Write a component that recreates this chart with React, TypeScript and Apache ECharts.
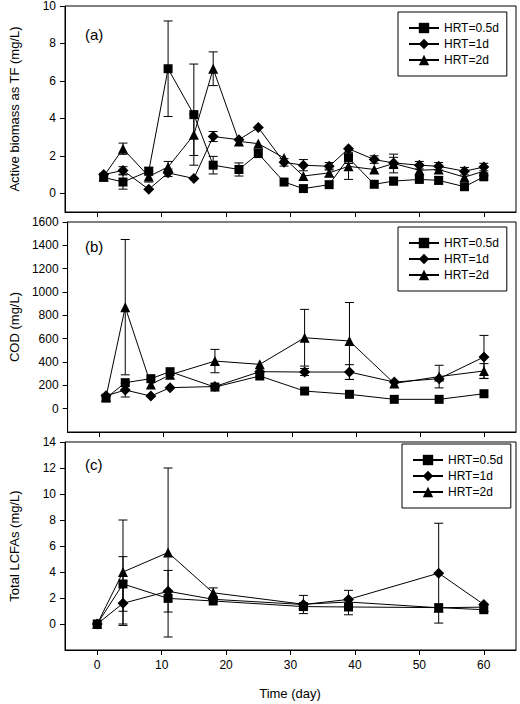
import React, { useEffect, useRef } from 'react';
import * as echarts from 'echarts';

const seriesNames = ['HRT=0.5d', 'HRT=1d', 'HRT=2d'];
const xTicks = [0, 10, 20, 30, 40, 50, 60];
const xTitle = 'Time (day)';

// Panel (a): active biomass as TF (mg/L)
const daysA = [1, 4, 8, 11, 15, 18, 22, 25, 29, 32, 36, 39, 43, 46, 50, 53, 57, 60];
const tfHalf = [0.85, 0.6, 1.18, 6.65, 4.2, 1.5, 1.27, 2.12, 0.6, 0.25, 0.46, 1.89, 0.48, 0.65, 0.74, 0.69, 0.35, 0.88];
const tfHalfErr = [0, 0.38, 0.2, 2.55, 2.7, 0.47, 0.35, 0.2, 0, 0, 0, 0.3, 0, 0.2, 0, 0.2, 0, 0];
const tfOne = [1.0, 1.22, 0.21, 1.09, 0.79, 3.03, 2.86, 3.51, 1.65, 1.5, 1.44, 2.38, 1.8, 1.62, 1.5, 1.44, 1.18, 1.4];
const tfOneErr = [0, 0.2, 0, 0.2, 0, 0.27, 0, 0, 0.2, 0.3, 0.2, 0, 0.2, 0.3, 0.2, 0.2, 0.2, 0.2];
const tfTwo = [0.9, 2.38, 0.9, 1.4, 3.12, 6.65, 2.77, 2.65, 1.89, 0.92, 1.09, 1.44, 1.27, 1.59, 1.23, 1.27, 0.86, 1.18];
const tfTwoErr = [0, 0.3, 0.3, 0.3, 1.1, 0.9, 0, 0, 0, 0, 0.2, 0.7, 0, 0.5, 0, 0, 0, 0];
const yTicksA = [0, 2, 4, 6, 8, 10];

// Panel (b): COD (mg/L)
const daysB = [1, 4, 8, 11, 18, 25, 32, 39, 46, 53, 60];
const codHalf = [90, 223, 257, 317, 185, 280, 151, 123, 80, 80, 128];
const codHalfErr = [0, 0, 0, 0, 0, 0, 0, 0, 0, 0, 0];
const codOne = [110, 160, 108, 180, 190, 317, 314, 314, 228, 257, 443];
const codOneErr = [0, 60, 0, 0, 0, 0, 30, 63, 0, 0, 185];
const codTwo = [100, 870, 208, 290, 408, 380, 608, 580, 216, 275, 323];
const codTwoErr = [0, 580, 0, 0, 100, 0, 243, 330, 0, 97, 63];
const yTicksB = [0, 200, 400, 600, 800, 1000, 1200, 1400, 1600];

// Panel (c): total LCFAs (mg/L)
const daysC = [0, 4, 11, 18, 32, 39, 53, 60];
const lcfaHalf = [0, 3.08, 1.97, 1.77, 1.34, 1.31, 1.26, 1.1];
const lcfaHalfErr = [0, 2.1, 0, 0, 0, 0.6, 0, 0];
const lcfaOne = [0, 1.59, 2.52, 1.9, 1.5, 1.89, 3.91, 1.5];
const lcfaOneErr = [0, 1.7, 1.6, 0, 0.7, 0.7, 3.84, 0];
const lcfaTwo = [0, 4.0, 5.5, 2.4, 1.52, 1.69, 1.25, 1.3];
const lcfaTwoErr = [0, 4.0, 6.5, 0.38, 0, 0, 0, 0];
const yTicksC = [0, 2, 4, 6, 8, 10, 12, 14];

const panels = [
  { label: '(a)', title: 'Active biomass as TF (mg/L)', min: -1, max: 10, ticks: yTicksA, days: daysA,
    vals: [tfHalf, tfOne, tfTwo], errs: [tfHalfErr, tfOneErr, tfTwoErr] },
  { label: '(b)', title: 'COD (mg/L)', min: -200, max: 1600, ticks: yTicksB, days: daysB,
    vals: [codHalf, codOne, codTwo], errs: [codHalfErr, codOneErr, codTwoErr] },
  { label: '(c)', title: 'Total LCFAs (mg/L)', min: -2, max: 14, ticks: yTicksC, days: daysC,
    vals: [lcfaHalf, lcfaOne, lcfaTwo], errs: [lcfaHalfErr, lcfaOneErr, lcfaTwoErr] },
];

const layout = [
  { top: 5, height: 207, legendLeft: 398, legendTop: 12, labelTop: 27 },
  { top: 222, height: 210, legendLeft: 398, legendTop: 227, labelTop: 239 },
  { top: 442, height: 208, legendLeft: 402, legendTop: 444, labelTop: 457 },
];

const symbols = ['rect', 'diamond', 'triangle'];
const symbolSizes = [9, 11, 10];
const FONT = 'Liberation Sans, Arial, sans-serif';

export default function App() {
  const ref = useRef<HTMLDivElement>(null);
  useEffect(() => {
    document.body.style.margin = '0';
    const chart = echarts.init(ref.current!, null, { renderer: 'svg' });
    const grids: any[] = [];
    const xAxes: any[] = [];
    const yAxes: any[] = [];
    const series: any[] = [];
    const legends: any[] = [];
    const graphics: any[] = [];
    panels.forEach((p, pi) => {
      const L = layout[pi];
      grids.push({ left: 65, width: 451, top: L.top, height: L.height, show: true, borderColor: '#000', borderWidth: 1, backgroundColor: 'transparent' });
      xAxes.push({
        type: 'value', gridIndex: pi, min: -5, max: 65,
        axisLine: { show: true, onZero: false, lineStyle: { color: '#000', width: 1 } },
        axisTick: { show: true, length: 5, customValues: xTicks, lineStyle: { color: '#000' } },
        axisLabel: { show: pi === 2, customValues: xTicks, color: '#000', fontSize: 12, margin: 9, fontFamily: FONT,
          formatter: (v: number) => String(v) },
        splitLine: { show: false },
      });
      yAxes.push({
        type: 'value', gridIndex: pi, min: p.min, max: p.max,
        axisLine: { show: true, onZero: false, lineStyle: { color: '#000', width: 1 } },
        axisTick: { show: true, length: 5, customValues: p.ticks, lineStyle: { color: '#000' } },
        axisLabel: { customValues: p.ticks, color: '#000', fontSize: 12, margin: 9, fontFamily: FONT,
          formatter: (v: number) => String(v) },
        splitLine: { show: false },
        name: p.title, nameLocation: 'middle', nameGap: 44,
        nameTextStyle: { color: '#000', fontSize: 13, fontFamily: FONT, fontWeight: 400 },
      });
      const errData: number[][] = [];
      p.vals.forEach((vals, si) => {
        series.push({
          type: 'line', name: seriesNames[si], xAxisIndex: pi, yAxisIndex: pi,
          data: p.days.map((d, i) => [d, vals[i]]),
          symbol: symbols[si], symbolSize: symbolSizes[si], showAllSymbol: true,
          itemStyle: { color: '#000' }, lineStyle: { color: '#000', width: 1 }, z: 3,
        });
        p.errs[si].forEach((e, i) => { if (e > 0) errData.push([p.days[i], vals[i], e]); });
      });
      series.push({
        type: 'custom', xAxisIndex: pi, yAxisIndex: pi, z: 2,
        encode: { x: 0, y: 1 },
        data: errData,
        renderItem: (params: any, api: any) => {
          const x = api.value(0), y = api.value(1), e = api.value(2);
          const t = api.coord([x, y + e]);
          const b = api.coord([x, y - e]);
          const hw = 4.5;
          const style = { stroke: '#000', lineWidth: 1 };
          return {
            type: 'group', children: [
              { type: 'line', shape: { x1: t[0], y1: t[1], x2: b[0], y2: b[1] }, style },
              { type: 'line', shape: { x1: t[0] - hw, y1: t[1], x2: t[0] + hw, y2: t[1] }, style },
              { type: 'line', shape: { x1: b[0] - hw, y1: b[1], x2: b[0] + hw, y2: b[1] }, style },
            ],
          };
        },
      });
      legends.push({
        data: seriesNames, left: L.legendLeft, top: L.legendTop, orient: 'vertical',
        itemWidth: 30, itemHeight: 13, itemGap: 4, padding: [10, 8, 10, 10],
        borderColor: '#000', borderWidth: 1, borderRadius: 0, selectedMode: false,
        textStyle: { color: '#000', fontSize: 12, fontFamily: FONT },
      });
      graphics.push({ type: 'text', left: 85, top: L.labelTop, style: { text: p.label, font: `15px ${FONT}`, fill: '#000' } });
    });
    graphics.push({ type: 'text', x: 290, y: 693, style: { text: xTitle, font: `13px ${FONT}`, fill: '#000', align: 'center', verticalAlign: 'middle' } });
    chart.setOption({
      animation: false,
      backgroundColor: '#fff',
      textStyle: { fontFamily: FONT },
      grid: grids, xAxis: xAxes, yAxis: yAxes, legend: legends, series, graphic: graphics,
    });
    return () => chart.dispose();
  }, []);
  return <div ref={ref} style={{ position: 'fixed', left: 0, top: 0, width: 520, height: 704 }} />;
}
